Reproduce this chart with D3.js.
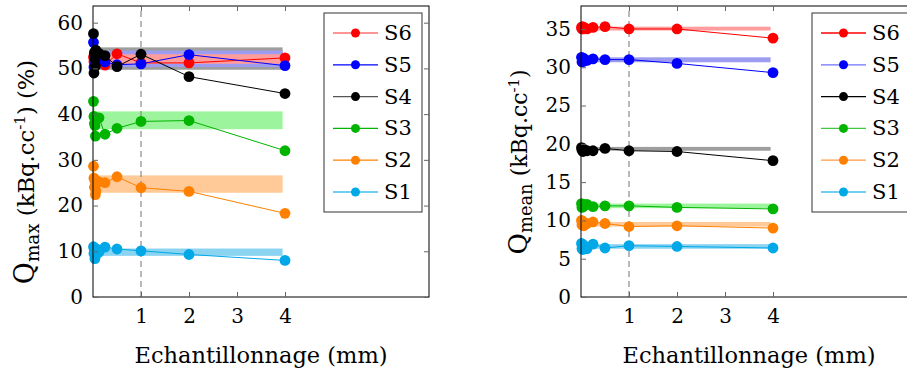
<!DOCTYPE html>
<html><head><meta charset="utf-8">
<script src="https://cdn.jsdelivr.net/npm/d3@7"></script>
<style>
body{margin:0;background:#fff;}
svg{display:block;}
text{font-family:"DejaVu Serif","Liberation Serif",serif;fill:#000;}
</style></head>
<body>
<svg id="chart" width="907" height="376"></svg>
<script>
// ---- data ----
const xVals = [0.01, 0.02, 0.03, 0.04, 0.05, 0.06, 0.125, 0.25, 0.5, 1, 2, 4];
const seriesNames = ["S6", "S5", "S4", "S3", "S2", "S1"];
const seriesColors = ["#ff0000", "#0000ff", "#000000", "#00b400", "#ff8000", "#00a8e8"];
const bandColors = ["#ff9c9c", "#9c9cf0", "#9e9e9e", "#9cf59c", "#ffca98", "#8ad4f2"];
const legendLineLeft = ["#ff7070", "#0000ff", "#555555", "#00b400", "#ff8000", "#40c0f0"];
const legendLineRight = ["#ff0000", "#7070ff", "#000000", "#40c840", "#ff9a40", "#40c0f0"];

// Q max (%)
const qmaxS6 = [52.5, 51.5, 53.0, 52.0, 51.0, 52.6, 52.2, 50.7, 53.2, 51.2, 51.2, 52.3];
const qmaxS5 = [55.7, 50.3, 52.8, 53.2, 51.6, 52.2, 52.6, 51.4, 50.8, 51.0, 53.0, 50.6];
const qmaxS4 = [57.6, 49.0, 53.5, 52.0, 50.5, 54.0, 53.3, 52.8, 50.4, 53.1, 48.2, 44.5];
const qmaxS3 = [42.8, 39.5, 38.0, 37.5, 35.2, 38.8, 39.2, 35.6, 36.9, 38.4, 38.6, 32.0];
const qmaxS2 = [28.6, 26.0, 24.0, 25.5, 22.4, 23.2, 25.2, 25.0, 26.3, 23.9, 23.1, 18.3];
const qmaxS1 = [11.0, 9.5, 10.3, 8.4, 9.0, 10.6, 9.8, 10.9, 10.5, 10.1, 9.3, 8.0];
const qmaxBandLow  = [51.0, 50.3, 49.7, 36.7, 22.8, 9.0];
const qmaxBandHigh = [53.1, 53.9, 54.6, 40.6, 26.6, 10.6];

// Q mean (kBq.cc-1)
const qmeanS6 = [35.2, 35.0, 35.3, 35.1, 35.0, 35.2, 35.0, 35.2, 35.3, 35.0, 35.0, 33.8];
const qmeanS5 = [31.3, 30.7, 31.1, 30.9, 31.2, 30.8, 30.9, 31.1, 31.0, 31.0, 30.5, 29.3];
const qmeanS4 = [19.5, 19.2, 19.4, 19.0, 19.3, 19.1, 19.1, 19.1, 19.4, 19.1, 19.0, 17.8];
const qmeanS3 = [12.2, 11.7, 12.0, 11.8, 12.1, 11.9, 12.1, 11.8, 11.9, 11.9, 11.7, 11.5];
const qmeanS2 = [10.0, 9.4, 9.7, 9.5, 9.8, 9.3, 9.6, 9.8, 9.6, 9.2, 9.3, 9.0];
const qmeanS1 = [7.0, 6.3, 6.6, 6.2, 6.8, 6.5, 6.3, 6.9, 6.4, 6.7, 6.6, 6.4];
const qmeanBandLow  = [34.8, 30.65, 19.1, 11.6, 9.2, 6.3];
const qmeanBandHigh = [35.3, 31.3, 19.6, 12.2, 9.8, 6.9];

const bandX = [0, 3.95];
const xTicks = [1, 2, 3, 4];
const yTicksMax = [0, 10, 20, 30, 40, 50, 60];
const yTicksMean = [0, 5, 10, 15, 20, 25, 30, 35];
const xLabel = "Echantillonnage (mm)";

const svg = d3.select("#chart");

function panel(cfg) {
  const g = svg.append("g");
  const x = d3.scaleLinear().domain([0, 7]).range([cfg.left, cfg.left + 336]);
  const y = d3.scaleLinear().domain([0, cfg.ymax]).range([297, 6]);

  const bandOrder = [2, 1, 0, 3, 4, 5];
  bandOrder.forEach(i => {
    g.append("rect")
      .attr("x", x(bandX[0])).attr("width", x(bandX[1]) - x(bandX[0]))
      .attr("y", y(cfg.bandHigh[i])).attr("height", y(cfg.bandLow[i]) - y(cfg.bandHigh[i]))
      .attr("fill", bandColors[i]);
  });

  g.append("line").attr("x1", x(1)).attr("x2", x(1)).attr("y1", y.range()[0]).attr("y2", y.range()[1])
    .attr("stroke", "#8a8a8a").attr("stroke-width", 1.2).attr("stroke-dasharray", "6,4");

  const line = d3.line().x(d => x(d[0])).y(d => y(d[1]));
  cfg.series.forEach((vals, i) => {
    const pts = xVals.map((xv, k) => [xv, vals[k]]);
    g.append("path").attr("d", line(pts)).attr("fill", "none")
      .attr("stroke", seriesColors[i]).attr("stroke-width", 1);
    g.selectAll(null).data(pts).enter().append("circle")
      .attr("cx", d => x(d[0])).attr("cy", d => y(d[1])).attr("r", 5.4)
      .attr("fill", seriesColors[i]);
  });

  g.append("rect").attr("x", x(0)).attr("y", 6).attr("width", 336).attr("height", 291)
    .attr("fill", "none").attr("stroke", "#000").attr("stroke-width", 1);

  const axB = d3.axisBottom(x).tickValues(xTicks).tickSizeInner(-5).tickSizeOuter(0).tickPadding(12).tickFormat(d3.format("d"));
  const gb = g.append("g").attr("transform", "translate(0,297)").call(axB);
  const axT = d3.axisTop(x).tickValues(xTicks).tickSizeInner(-5).tickSizeOuter(0).tickFormat("");
  const gt = g.append("g").attr("transform", "translate(0,6)").call(axT);
  const axL = d3.axisLeft(y).tickValues(cfg.yTicks).tickSizeInner(-5).tickSizeOuter(0).tickPadding(10);
  const gl = g.append("g").attr("transform", `translate(${x(0)},0)`).call(axL);
  const axR = d3.axisRight(y).tickValues(cfg.yTicks).tickSizeInner(-5).tickSizeOuter(0).tickFormat("");
  const gr = g.append("g").attr("transform", `translate(${x(7)},0)`).call(axR);
  [gb, gt, gl, gr].forEach(a => {
    a.select(".domain").remove();
    a.selectAll(".tick line").attr("stroke", "#666");
    a.selectAll("text").style("font-size", "20px").style("font-family", '"DejaVu Serif",serif');
  });

  g.append("text").attr("x", (x(0) + x(7)) / 2).attr("y", 363).attr("text-anchor", "middle")
    .style("font-size", "22.5px").text(xLabel);

  const s = cfg.ylabScale;
  const yl = g.append("text").attr("transform", `translate(${cfg.ylabX},${cfg.ylabY}) rotate(-90)`)
    .attr("text-anchor", "middle").style("font-size", (21 * s) + "px");
  yl.append("tspan").style("font-size", (25 * s) + "px").text("Q");
  yl.append("tspan").attr("dy", 5 * s).style("font-size", (17 * s) + "px").text(cfg.sub);
  yl.append("tspan").attr("dy", -5 * s).text(" (kBq.cc");
  yl.append("tspan").attr("dy", -8 * s).style("font-size", (14 * s) + "px").text("-1");
  yl.append("tspan").attr("dy", 8 * s).text(cfg.tail);

  const lg = g.append("g");
  lg.append("rect").attr("x", cfg.legX).attr("y", 13).attr("width", cfg.legW).attr("height", 199)
    .attr("fill", "#fff").attr("stroke", "#333").attr("stroke-width", 1);
  seriesNames.forEach((n, i) => {
    const yy = 33 + i * 31.8;
    lg.append("line").attr("x1", cfg.legX + 9).attr("x2", cfg.legX + 54).attr("y1", yy).attr("y2", yy)
      .attr("stroke", cfg.legLines[i]).attr("stroke-width", 1.3);
    lg.append("circle").attr("cx", cfg.legX + 31.5).attr("cy", yy).attr("r", 4.5).attr("fill", seriesColors[i]);
    lg.append("text").attr("x", cfg.legX + 60).attr("y", yy + 7).style("font-size", "21px").text(n);
  });
}

panel({
  left: 93, ymax: 63.65, yTicks: yTicksMax,
  series: [qmaxS6, qmaxS5, qmaxS4, qmaxS3, qmaxS2, qmaxS1],
  bandLow: qmaxBandLow, bandHigh: qmaxBandHigh,
  ylabX: 34, ylabY: 172, ylabScale: 1.08, sub: "max", tail: ") (%)",
  legX: 324, legW: 98, legLines: legendLineLeft
});
panel({
  left: 581, ymax: 38.0, yTicks: yTicksMean,
  series: [qmeanS6, qmeanS5, qmeanS4, qmeanS3, qmeanS2, qmeanS1],
  bandLow: qmeanBandLow, bandHigh: qmeanBandHigh,
  ylabX: 527, ylabY: 162, ylabScale: 1.05, sub: "mean", tail: ")",
  legX: 812, legW: 110, legLines: legendLineRight
});
</script>
</body></html>
